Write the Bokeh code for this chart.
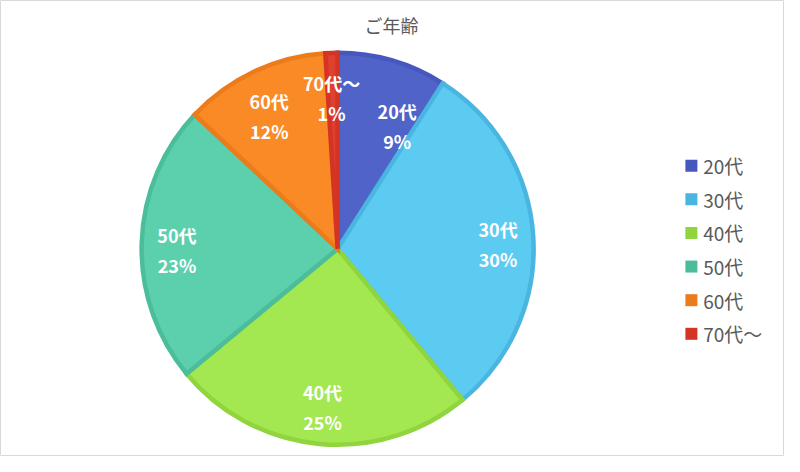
import math
from bokeh.plotting import figure
from bokeh.models import ColumnDataSource, Range1d
from bokeh.core.properties import value
from bokeh.embed import file_html
from bokeh.resources import INLINE

# ---- data ----
categories = ["20代", "30代", "40代", "50代", "60代", "70代～"]
percents = [9, 30, 25, 23, 12, 1]
fill_colors = ["#5063c9", "#5ccbf2", "#a3e751", "#5ccfad", "#f98a26", "#e0402f"]
edge_colors = ["#4657be", "#4ab5e0", "#90d43e", "#4cbd9b", "#ec7b1c", "#d33424"]
title_text = "ご年齢"

W, H = 784, 456
RW, RH = 800, 472   # layout space
p = figure(width=W, height=H, output_backend="svg", toolbar_location=None,
           x_range=Range1d(0, RW), y_range=Range1d(0, RH),
           min_border=0, background_fill_color="white", border_fill_color="white")
p.axis.visible = False
p.grid.visible = False
p.outline_line_color = "#d9d9d9"

FONT = value("Noto Sans CJK JP")
cx, cy, R = 344, RH - 257, 200
total = sum(percents)
starts, ends, mids = [], [], []
cum = 0
for v in percents:
    a0 = math.pi / 2 - 2 * math.pi * cum / total
    cum += v
    a1 = math.pi / 2 - 2 * math.pi * cum / total
    starts.append(a0)
    ends.append(a1)
    mids.append((a0 + a1) / 2)

src = ColumnDataSource(dict(start=starts, end=ends, fill=fill_colors, edge=edge_colors))
p.wedge(x=cx, y=cy, radius=R, start_angle="start", end_angle="end", direction="clock",
        fill_color="fill", line_color="edge", line_width=4.5, line_join="miter", source=src)

# labels (placed around the mid-angle, with small nudges like the original)
lab_r = 164
lab_dx = [15, 0, 0, 0, 0, -1]
lab_dy = [-30, -5, 0, -6, -11, -8]
lx, ly, pcts = [], [], []
for i, m in enumerate(mids):
    lx.append(cx + lab_r * math.cos(m) + lab_dx[i])
    ly.append(cy + lab_r * math.sin(m) + lab_dy[i])
    pcts.append(f"{percents[i]}%")
ls = ColumnDataSource(dict(x=lx, y=ly, n=categories, pc=pcts))
for col, off in (("n", -15), ("pc", 15)):
    p.text(x="x", y="y", text=col, source=ls, y_offset=off, text_align="center",
           text_baseline="middle", text_color="white", text_font=FONT,
           text_font_style="bold", text_font_size="18px")

# title
p.text(x=[399], y=[RH - 25], text=[title_text], text_align="center", text_baseline="middle",
       text_color="#595959", text_font=FONT, text_font_size="18px")

# legend
leg_y = [RH - 171 - i * 34.8 for i in range(len(categories))]
p.scatter(x=[705] * len(categories), y=leg_y, marker="square", size=12,
          fill_color=edge_colors, line_color=None)
p.text(x=[717] * len(categories), y=leg_y, text=categories, text_align="left",
       text_baseline="middle", text_color="#595959", text_font=FONT,
       text_font_size="19px")

open("out.html", "w").write(file_html(p, INLINE))
